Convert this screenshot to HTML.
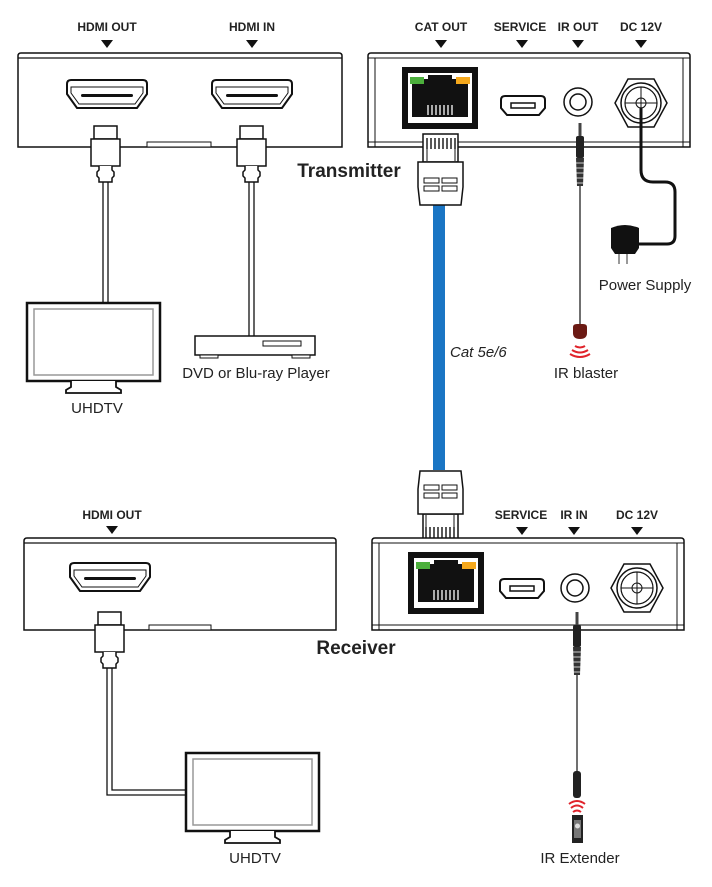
<!DOCTYPE html>
<html><head><meta charset="utf-8"><style>
html,body{margin:0;padding:0;background:#fff;width:712px;height:887px;overflow:hidden}
svg{display:block}
.lb{font-family:"Liberation Sans",sans-serif;font-weight:bold;font-size:12px;fill:#222;text-anchor:middle}
.nm{font-family:"Liberation Sans",sans-serif;font-size:15px;fill:#222;text-anchor:middle}
.tt{font-family:"Liberation Sans",sans-serif;font-weight:bold;font-size:19px;fill:#222;text-anchor:middle}
</style></head><body>
<svg width="712" height="887" viewBox="0 0 712 887" xmlns="http://www.w3.org/2000/svg">
<defs>
<g id="hdmi">
 <path d="M-40,-13 q0,-4 4,-4 h72 q4,0 4,4 v10 l-10,14 h-60 l-10,-14z" fill="#fff" stroke="#111" stroke-width="2"/>
 <path d="M-36,-10 h72 v6 l-8,11 h-56 l-8,-11z" fill="none" stroke="#111" stroke-width="1"/>
 <rect x="-26" y="-3" width="52" height="3" rx="1.5" fill="#111"/>
</g>
<g id="hplug">
 <rect x="-11" y="0" width="23" height="13" fill="#fff" stroke="#111" stroke-width="1.5"/>
 <rect x="-14" y="13" width="29" height="27" fill="#fff" stroke="#111" stroke-width="1.5"/>
 <path d="M-6,40 v4 l-2,2 v4 l2,2 v4 h13 v-4 l2,-2 v-4 l-2,-2 v-4" fill="#fff" stroke="#111" stroke-width="1.5"/>
</g>
<g id="tv">
 <rect x="0" y="0" width="133" height="78" fill="#fff" stroke="#111" stroke-width="2.5"/>
 <rect x="7" y="6" width="119" height="66" fill="#fff" stroke="#999" stroke-width="1.5"/>
 <path d="M44,78 v6 l-5,3 v3 h55 v-3 l-5,-3 v-6" fill="#fff" stroke="#111" stroke-width="1.8"/>
</g>
<g id="tri"><path d="M-6,0 h12 l-6,8z" fill="#111"/></g>
<g id="rj">
 <rect x="0" y="0" width="76" height="62" fill="#111"/>
 <rect x="6" y="6" width="64" height="50" fill="#fff"/>
 <path d="M10,12 h56 v38 h-56z M10,12" fill="#111"/>
 <rect x="8" y="10" width="14" height="7" fill="#4caf3c"/>
 <rect x="54" y="10" width="14" height="7" fill="#f5a81c"/>
 <rect x="26" y="8" width="24" height="4" fill="#111"/>
 <g stroke="#fff" stroke-width="1.3"><path d="M26,38v10M30,38v10M34,38v10M38,38v10M42,38v10M46,38v10M50,38v10"/></g>
</g>
<g id="usb">
 <path d="M-22,-6 q0,-4 4,-4 h36 q4,0 4,4 v8 l-6,7 h-32 l-6,-7z" fill="#fff" stroke="#111" stroke-width="2"/>
 <rect x="-12" y="-3" width="24" height="5" fill="#fff" stroke="#111" stroke-width="1.5"/>
</g>
<g id="dc">
 <path d="M-13,-24 h26 l13,24 -13,24 h-26 l-13,-24z" fill="#fff" stroke="#111" stroke-width="1.5"/>
 <circle r="20" fill="#fff" stroke="#111" stroke-width="1.5"/>
 <circle r="16" fill="none" stroke="#111" stroke-width="1.2"/>
 <circle r="5" fill="none" stroke="#111" stroke-width="1"/>
 <path d="M-16,0 h32 M0,-16 v32" stroke="#111" stroke-width="1"/>
</g>
<g id="jack">
 <circle r="14" fill="#fff" stroke="#111" stroke-width="1.5"/>
 <circle r="8" fill="#fff" stroke="#111" stroke-width="1.5"/>
</g>
<g id="plug35">
 <rect x="-1.5" y="0" width="3" height="15" fill="#444"/>
 <rect x="-4" y="13" width="8" height="22" rx="2" fill="#222"/>
 <path d="M-4,35 h8 l-1,28 h-6z" fill="#333"/>
 <g stroke="#fff" stroke-width="0.8"><path d="M-4,40h8M-4,45h8M-4,50h8M-4,55h8M-4,60h8"/></g>
</g>
<g id="rjplug">
 <rect x="5" y="0" width="35" height="28" fill="#fff" stroke="#111" stroke-width="1.5"/>
 <g stroke="#111" stroke-width="1.4"><path d="M9,4v11M13,4v11M17,4v11M21,4v11M25,4v11M29,4v11M33,4v11M37,4v11"/></g>
 <path d="M9,15v12M37,15v12" stroke="#111"/>
 <path d="M0,28 h45 v25 l-2,18 h-41 l-2,-18z" fill="#fff" stroke="#111" stroke-width="1.5"/>
 <rect x="6" y="44" width="15" height="5" fill="none" stroke="#111"/>
 <rect x="24" y="44" width="15" height="5" fill="none" stroke="#111"/>
 <rect x="6" y="52" width="15" height="5" fill="none" stroke="#111"/>
 <rect x="24" y="52" width="15" height="5" fill="none" stroke="#111"/>
</g>
</defs>

<!-- TOP LEFT BOX -->
<text class="lb" x="107" y="31">HDMI OUT</text><use href="#tri" x="107" y="40"/>
<text class="lb" x="252" y="31">HDMI IN</text><use href="#tri" x="252" y="40"/>
<path d="M18,147 V56 q0,-3 3,-3 h318 q3,0 3,3 V147 Z" fill="#fff" stroke="#111" stroke-width="1.5"/>
<path d="M18,58 H342" stroke="#111" stroke-width="1.2"/>
<rect x="147" y="142" width="64" height="5" fill="#fff" stroke="#111"/>
<use href="#hdmi" x="107" y="97"/>
<use href="#hdmi" x="252" y="97"/>
<!-- cables -->
<path d="M103,182 V303 M108,182 V303" stroke="#111" stroke-width="1.3"/>
<path d="M249,182 V336 M254,182 V336" stroke="#111" stroke-width="1.3"/>
<use href="#hplug" x="105" y="126"/>
<use href="#hplug" x="251" y="126"/>
<use href="#tv" x="27" y="303"/>
<text class="nm" x="97" y="413">UHDTV</text>
<!-- DVD -->
<rect x="195" y="336" width="120" height="19" fill="#fff" stroke="#111" stroke-width="1.5"/>
<rect x="263" y="341" width="38" height="5" fill="#fff" stroke="#111"/>
<rect x="200" y="355" width="18" height="3" fill="#fff" stroke="#111"/>
<rect x="292" y="355" width="18" height="3" fill="#fff" stroke="#111"/>
<text class="nm" x="256" y="378">DVD or Blu-ray Player</text>

<text class="tt" x="349" y="177">Transmitter</text>

<!-- TOP RIGHT BOX -->
<text class="lb" x="441" y="31">CAT OUT</text><use href="#tri" x="441" y="40"/>
<text class="lb" x="520" y="31">SERVICE</text><use href="#tri" x="522" y="40"/>
<text class="lb" x="578" y="31">IR OUT</text><use href="#tri" x="578" y="40"/>
<text class="lb" x="641" y="31">DC 12V</text><use href="#tri" x="641" y="40"/>
<path d="M368,147 V56 q0,-3 3,-3 h316 q3,0 3,3 V147 Z" fill="#fff" stroke="#111" stroke-width="1.5"/>
<path d="M368,58 H690 M368,142 H690 M375,58 V147 M683,58 V147" stroke="#111" stroke-width="1"/>
<use href="#rj" x="402" y="67"/>
<use href="#usb" x="523" y="106"/>
<use href="#jack" x="578" y="102"/>
<use href="#dc" x="641" y="103"/>
<!-- blue cable -->
<rect x="433" y="200" width="12" height="270" fill="#1a75c4"/>
<use href="#rjplug" x="418" y="134"/>
<text x="450" y="357" font-family="Liberation Sans,sans-serif" font-style="italic" font-size="15" fill="#222">Cat 5e/6</text>
<!-- IR out cable -->
<path d="M580,185 V325" stroke="#111" stroke-width="1.2"/>
<use href="#plug35" x="580" y="123"/>
<path d="M573,327 q0,-3 4,-3 h6 q4,0 4,3 v6 q0,6 -7,6 q-7,0 -7,-6z" fill="#6b1a14"/>
<g fill="none" stroke="#e0232b" stroke-width="2"><path d="M575,346 q5,3 10,0"/><path d="M572,350 q8,5 16,0"/><path d="M570,354 q10,6 20,0"/></g>
<text class="nm" x="586" y="378">IR blaster</text>
<!-- power cable -->
<path d="M641,108 V170 q0,12 12,12 h12 q10,0 10,10 V236 q0,8 -8,8 H636" fill="none" stroke="#111" stroke-width="3"/>
<path d="M611,228 q14,-6 28,0 v20 l-4,6 h-20 l-4,-6z" fill="#111"/>
<rect x="618" y="254" width="2" height="10" fill="#999"/><rect x="626" y="254" width="2" height="10" fill="#999"/>
<text class="nm" x="645" y="290">Power Supply</text>

<!-- bottom RJ plug -->
<g transform="translate(463,542) rotate(180)"><use href="#rjplug" x="0" y="0"/></g>

<!-- BOTTOM LEFT BOX -->
<text class="lb" x="112" y="519">HDMI OUT</text><use href="#tri" x="112" y="526"/>
<path d="M24,630 V541 q0,-3 3,-3 h306 q3,0 3,3 V630 Z" fill="#fff" stroke="#111" stroke-width="1.5"/>
<path d="M24,543 H336" stroke="#111" stroke-width="1.2"/>
<rect x="149" y="625" width="62" height="5" fill="#fff" stroke="#111"/>
<use href="#hdmi" x="110" y="580"/>
<path d="M107,665 V795 H187 M112,665 V790 H187" fill="none" stroke="#111" stroke-width="1.3"/>
<use href="#hplug" x="109" y="612"/>
<use href="#tv" x="186" y="753"/>
<text class="nm" x="255" y="863">UHDTV</text>

<text class="tt" x="356" y="654">Receiver</text>

<!-- BOTTOM RIGHT BOX -->
<text class="lb" x="521" y="519">SERVICE</text><use href="#tri" x="522" y="527"/>
<text class="lb" x="574" y="519">IR IN</text><use href="#tri" x="574" y="527"/>
<text class="lb" x="637" y="519">DC 12V</text><use href="#tri" x="637" y="527"/>
<path d="M372,630 V541 q0,-3 3,-3 h306 q3,0 3,3 V630 Z" fill="#fff" stroke="#111" stroke-width="1.5"/>
<path d="M372,543 H684 M372,625 H684 M379,543 V630 M677,543 V630" stroke="#111" stroke-width="1"/>
<use href="#rj" x="408" y="552"/>
<use href="#usb" x="522" y="589"/>
<use href="#jack" x="575" y="588"/>
<use href="#dc" x="637" y="588"/>
<path d="M577,672 V772" stroke="#111" stroke-width="1.2"/>
<use href="#plug35" x="577" y="612"/>
<rect x="573" y="771" width="8" height="27" rx="3" fill="#222"/>
<g fill="none" stroke="#e0232b" stroke-width="2"><path d="M573,812 q4,-3 8,0"/><path d="M571,808 q6,-5 12,0"/><path d="M569,804 q8,-6 16,0"/></g>
<rect x="572" y="815" width="11" height="28" fill="#222"/>
<rect x="574" y="820" width="7" height="18" fill="#777"/>
<circle cx="577.5" cy="826" r="2.5" fill="#ddd"/>
<text class="nm" x="580" y="863">IR Extender</text>
</svg>
</body></html>
